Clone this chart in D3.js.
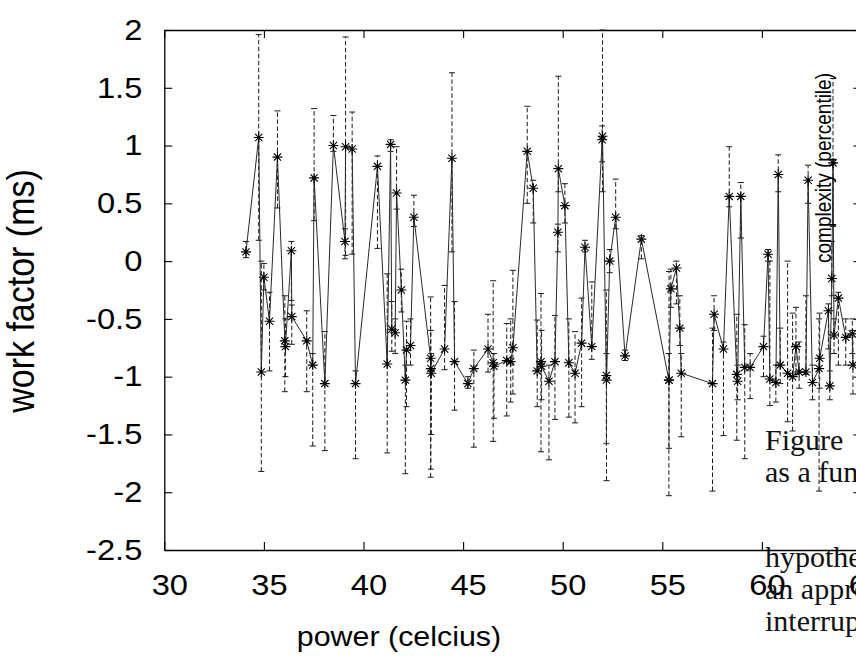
<!DOCTYPE html>
<html>
<head>
<meta charset="utf-8">
<script src="https://cdn.jsdelivr.net/npm/d3@7"></script>
<style>
  body { margin: 0; background: #fff; overflow: hidden; }
  svg { display: block; }
  /* the source picture is a bit wider than tall, so glyphs get stretched sideways */
  .wide-c { transform-box: fill-box; transform-origin: center; transform: scaleX(1.126); }
  .wide-r { transform-box: fill-box; transform-origin: right center; transform: scaleX(1.126); }
</style>
</head>
<body>
<div id="chart"></div>
<script>
// power (celcius) for each run, in data order
const powerC = [
  34.10, 34.74, 34.87, 35.00, 35.28, 35.68, 36.05, 36.08, 36.38, 36.40,
  37.15, 37.45, 37.52, 38.06, 38.49, 39.07, 39.10, 39.43, 39.60, 40.70,
  41.19, 41.36, 41.42, 41.59, 41.66, 41.90, 42.10, 42.16, 42.36, 42.53,
  43.37, 43.38, 43.40, 44.07, 44.44, 44.57, 45.24, 45.54, 46.25, 46.51,
  46.55, 47.19, 47.39, 47.50, 48.22, 48.52, 48.72, 48.91, 48.94, 49.31,
  49.61, 49.76, 49.78, 50.11, 50.31, 50.62, 50.95, 51.12, 51.46, 51.98,
  52.00, 52.19, 52.20, 52.36, 52.66, 53.13, 53.95, 55.33, 55.34, 55.43,
  55.71, 55.88, 55.95, 57.52, 57.60, 58.07, 58.36, 58.74, 58.78, 58.94,
  59.14, 59.41, 60.08, 60.31, 60.40, 60.70, 60.82, 60.92, 61.29, 61.54,
  61.71, 61.87, 62.21, 62.32, 62.54, 62.87, 62.90, 63.34, 63.41, 63.51,
  63.57, 63.62, 63.84, 64.21, 64.54, 64.57
];
// work factor (ms), mean
const workMs = [
   0.08,  1.07, -0.96, -0.14, -0.52,  0.90, -0.69, -0.74,  0.09, -0.48,
  -0.69, -0.90,  0.72, -1.06,  1.00,  0.17,  0.99,  0.97, -1.06,  0.82,
  -0.89,  1.01, -0.59, -0.62,  0.59, -0.25, -1.03, -0.77, -0.73,  0.38,
  -0.84, -0.93, -0.97, -0.76,  0.89, -0.87, -1.06, -0.93, -0.76, -0.88,
  -0.91, -0.86, -0.87, -0.75,  0.95,  0.63, -0.95, -0.87, -0.91, -1.04,
  -0.87,  0.25,  0.80,  0.48, -0.88, -0.97, -0.71,  0.12, -0.74,  1.05,
   1.08, -0.99, -1.03,  0.00,  0.38, -0.82,  0.19, -1.03, -1.03, -0.24,
  -0.06, -0.58, -0.97, -1.06, -0.46, -0.76,  0.56, -0.98, -1.04,  0.56,
  -0.92, -0.92, -0.74,  0.06, -1.02, -1.05,  0.75, -0.90, -0.97, -1.00,
  -0.74, -0.96, -0.96,  0.70, -1.05, -0.93, -0.84, -0.43, -1.08, -0.15,
   0.85, -0.64, -0.32, -0.66, -0.63, -0.90
];
// error bar lower end
const workLow = [
   0.03,  0.18, -1.82, -0.25, -0.95,  0.46, -1.13, -1.00, -0.34, -0.72,
  -1.13, -1.60,  0.35, -1.64,  0.95,  0.02,  0.05,  0.06, -1.71,  0.11,
  -1.66,  0.95, -0.78, -0.80,  0.45, -0.44, -1.84, -1.26, -0.90,  0.30,
  -1.87, -1.80, -1.50, -0.94,  0.08, -1.29, -1.10, -1.61, -0.96, -1.56,
  -1.36, -1.34, -1.22, -1.15,  0.50,  0.33, -1.26, -1.65, -1.20, -1.72,
  -1.37,  0.08,  0.60,  0.33, -1.35, -1.40, -1.26,  0.08, -0.85,  0.86,
   0.60, -1.58, -1.90, -0.10,  0.28, -0.86,  0.02, -2.03, -1.62, -0.40,
  -0.37, -0.73, -1.52, -1.99, -0.60, -1.51,  0.47, -1.55, -1.20,  0.20,
  -1.71, -1.19, -1.00,  0.00, -1.25, -1.22,  0.60, -1.06, -1.39, -1.47,
  -0.98, -1.10, -0.98,  0.50, -1.20, -1.99, -1.10, -0.76, -1.20, -0.30,
   0.30, -0.80, -0.90, -0.90, -0.80, -1.15
];
// error bar upper end
const workHigh = [
   0.17,  1.96,  0.00, -0.02, -0.27,  1.30, -0.30, -0.50,  0.17, -0.38,
  -0.43, -0.80,  1.32, -0.61,  1.26,  0.28,  1.94,  1.29, -0.95,  0.91,
  -0.11,  1.05, -0.35, -0.50,  0.99, -0.07, -0.90, -0.52, -0.50,  0.57,
  -0.31, -0.60, -0.80, -0.21,  1.63, -0.35, -1.00, -0.77, -0.46, -0.17,
  -0.80, -0.54, -0.50, -0.08,  1.34,  0.70, -0.51, -0.28, -0.60, -0.90,
  -0.47,  0.32,  1.60,  0.67, -0.50, -0.61, -0.32,  0.18, -0.18,  1.17,
   2.00, -0.25, -0.80,  0.10,  0.71, -0.77,  0.22, -0.80, -0.09, -0.07,
   0.00, -0.30, -0.80, -0.58, -0.30, -0.70,  0.99, -0.46, -0.90,  0.68,
  -0.55, -0.80, -0.65,  0.10,  0.00, -0.90,  0.92, -0.58,  0.00, -0.45,
  -0.40, -0.70, -0.30,  0.83, -0.90, -0.50, -0.45, -0.37, -0.95,  0.17,
   1.58, -0.50, -0.27, -0.50, -0.50, -0.60
];

const xTicks = [30, 35, 40, 45, 50, 55, 60, 65];
const yTicks = [-2.5, -2, -1.5, -1, -0.5, 0, 0.5, 1, 1.5, 2];

// text of the page the figure was cut from
const captionLines = ["Figure", "as a function of"];
const bodyLines = ["hypothesis is that", "an approach to", "interrupts is"];

const width = 856, height = 657;
const plotLeft = 164.3, plotRight = 861.5, plotTop = 30, plotBottom = 550;

const I = d3.range(powerC.length);

const xScale = d3.scaleLinear([30, 65], [plotLeft, plotRight]);
const yScale = d3.scaleLinear([-2.5, 2], [plotBottom, plotTop]);

const svg = d3.select("#chart").append("svg")
    .attr("width", width)
    .attr("height", height)
    .attr("viewBox", [0, 0, width, height]);

const sans = "'Liberation Sans', Arial, Helvetica, sans-serif";

// frame and ticks (all four sides, ticks pointing inward)
svg.append("g")
    .attr("transform", `translate(0,${plotBottom})`)
    .call(d3.axisBottom(xScale).tickValues(xTicks).tickSizeInner(-8).tickSizeOuter(0)
        .tickPadding(24).tickFormat(d => String(d)))
    .call(g => g.attr("font-family", sans).attr("font-size", 29))
    .call(g => g.selectAll("text").attr("x", 5).attr("fill", "#000").attr("class", "wide-c"));

svg.append("g")
    .attr("transform", `translate(${plotLeft},0)`)
    .call(d3.axisLeft(yScale).tickValues(yTicks).tickSizeInner(-8).tickSizeOuter(0)
        .tickPadding(22).tickFormat(d => String(d)))
    .call(g => g.attr("font-family", sans).attr("font-size", 29))
    .call(g => g.selectAll("text").attr("fill", "#000").attr("class", "wide-r"));

svg.append("g")
    .attr("transform", `translate(0,${plotTop})`)
    .call(d3.axisTop(xScale).tickValues(xTicks).tickSizeInner(-8).tickSizeOuter(0).tickFormat(""));

svg.append("g")
    .attr("transform", `translate(${plotRight},0)`)
    .call(d3.axisRight(yScale).tickValues(yTicks).tickSizeInner(-8).tickSizeOuter(0).tickFormat(""));

svg.selectAll(".domain").attr("stroke", "#000").attr("stroke-width", 1.3);
svg.selectAll(".tick line").attr("stroke", "#000").attr("stroke-width", 1.1);

// dashed error bars
const bars = svg.append("g")
    .attr("stroke", "#1a1a1a")
    .attr("stroke-width", 1);

bars.selectAll("line.bar")
  .data(I)
  .join("line")
    .attr("class", "bar")
    .attr("stroke-dasharray", "4.5,2.5")
    .attr("x1", i => xScale(powerC[i]))
    .attr("x2", i => xScale(powerC[i]))
    .attr("y1", i => yScale(workLow[i]))
    .attr("y2", i => yScale(workHigh[i]));

bars.selectAll("line.cap")
  .data(I.flatMap(i => [[i, workLow[i]], [i, workHigh[i]]]))
  .join("line")
    .attr("class", "cap")
    .attr("x1", d => xScale(powerC[d[0]]) - 3)
    .attr("x2", d => xScale(powerC[d[0]]) + 3)
    .attr("y1", d => yScale(d[1]))
    .attr("y2", d => yScale(d[1]));

// the connecting line
const line = d3.line()
    .x(i => xScale(powerC[i]))
    .y(i => yScale(workMs[i]));

svg.append("path")
    .datum(I)
    .attr("fill", "none")
    .attr("stroke", "#2a2a2a")
    .attr("stroke-width", 1)
    .attr("d", line);

// asterisk markers
const r = 5, q = 3.6;
svg.append("g")
    .attr("stroke", "#000")
    .attr("stroke-width", 1.1)
    .attr("fill", "none")
  .selectAll("path")
  .data(I)
  .join("path")
    .attr("transform", i => `translate(${xScale(powerC[i])},${yScale(workMs[i])})`)
    .attr("d", `M${-r},0H${r}M0,${-r}V${r}M${-q},${-q}L${q},${q}M${-q},${q}L${q},${-q}`);

// axis titles
svg.append("text")
    .attr("transform", `translate(34,291) rotate(-90) scale(1,1.126)`)
    .attr("text-anchor", "middle")
    .attr("font-family", sans)
    .attr("font-size", 34)
    .text("work factor (ms)");

svg.append("text")
    .attr("x", 399)
    .attr("y", 646)
    .attr("text-anchor", "middle")
    .attr("font-family", sans)
    .attr("font-size", 27)
    .attr("class", "wide-c")
    .text("power (celcius)");

// label from the neighbouring figure that overlaps this one
svg.append("text")
    .attr("transform", `translate(831,168) rotate(-90) scale(1,1.126)`)
    .attr("text-anchor", "middle")
    .attr("font-family", sans)
    .attr("font-size", 19)
    .text("complexity (percentile)");

// page text running over the picture
const serif = "'Liberation Serif', 'Times New Roman', serif";
svg.append("g")
    .attr("font-family", serif)
    .attr("font-size", 30)
    .attr("fill", "#111")
  .selectAll("text")
  .data(captionLines)
  .join("text")
    .attr("x", 765)
    .attr("y", (d, i) => 450 + i * 31.5)
    .text(d => d);

svg.append("g")
    .attr("font-family", serif)
    .attr("font-size", 30)
    .attr("fill", "#111")
  .selectAll("text")
  .data(bodyLines)
  .join("text")
    .attr("x", 765)
    .attr("y", (d, i) => 567 + i * 32)
    .text(d => d);
</script>
</body>
</html>
